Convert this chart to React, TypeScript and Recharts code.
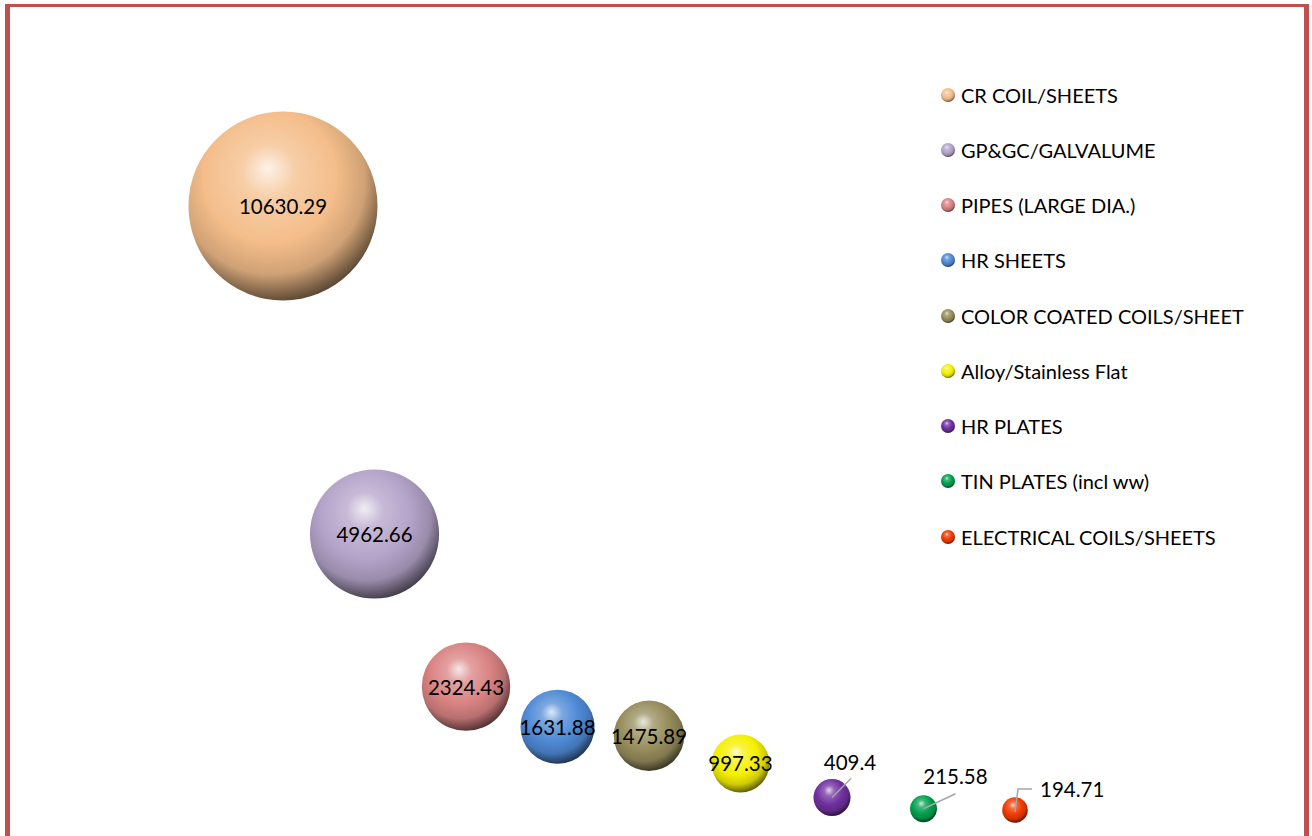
import { ScatterChart, Scatter, XAxis, YAxis, ZAxis } from 'recharts'

const PRODUCTS = [
  'CR COIL/SHEETS',
  'GP&GC/GALVALUME',
  'PIPES (LARGE DIA.)',
  'HR SHEETS',
  'COLOR COATED COILS/SHEET',
  'Alloy/Stainless Flat',
  'HR PLATES',
  'TIN PLATES (incl ww)',
  'ELECTRICAL COILS/SHEETS',
]
const POSITIONS = [1, 2, 3, 4, 5, 6, 7, 8, 9]
const VALUES = [10630.29, 4962.66, 2324.43, 1631.88, 1475.89, 997.33, 409.4, 215.58, 194.71]
const COLORS = ['#f4bd8a', '#b4a3c9', '#d98282', '#4f8ad6', '#978d5c', '#f5f000', '#7030a0', '#00a04e', '#f03a00']

const FONT = 'Lato, "Open Sans", sans-serif'
const MAX_R = 94.5

// small bubbles get their label pushed out with a grey leader line
const CALLOUTS: Record<number, { line: number[][]; tx: number; ty: number; anchor: 'middle' | 'start' }> = {
  6: { line: [[0, 0], [19, -19]], tx: 18, ty: -28, anchor: 'middle' },
  7: { line: [[0, 0], [32, -15]], tx: 32, ty: -25, anchor: 'middle' },
  8: { line: [[0, 2], [3, -21], [17, -21]], tx: 25, ty: -13, anchor: 'start' },
}

const mix = (hex: string, to: string, t: number) => {
  const a = parseInt(hex.slice(1), 16)
  const b = parseInt(to.slice(1), 16)
  const ch = (v: number, s: number) => (v >> s) & 255
  const c = [16, 8, 0].map((s) => Math.round(ch(a, s) + (ch(b, s) - ch(a, s)) * t))
  return `rgb(${c.join(',')})`
}

const SphereDefs = ({ prefix }: { prefix: string }) => (
  <defs>
    {COLORS.map((c, i) => (
      <radialGradient key={i} id={`${prefix}${i}`} cx="0.44" cy="0.38" r="0.64" fx="0.42" fy="0.3">
        <stop offset="0%" stopColor={mix(c, '#ffffff', 0.8)} />
        <stop offset="22%" stopColor={mix(c, '#ffffff', 0.25)} />
        <stop offset="55%" stopColor={c} />
        <stop offset="78%" stopColor={mix(c, '#000000', 0.15)} />
        <stop offset="100%" stopColor={mix(c, '#000000', 0.65)} />
      </radialGradient>
    ))}
  </defs>
)

const makeBubble = (idx: number) => (props: any) => {
  const { cx, cy } = props
  const r = props.width ? props.width / 2 : Math.sqrt((props.size || 0) / Math.PI)
  const callout = CALLOUTS[idx]
  return (
    <g>
      <circle cx={cx} cy={cy} r={r} fill={`url(#sph${idx})`} />
      {callout ? (
        <>
          <polyline
            points={callout.line.map(([dx, dy]) => `${cx + dx},${cy + dy}`).join(' ')}
            fill="none" stroke="#a6a6a6" strokeWidth={1.5}
          />
          <text x={cx + callout.tx} y={cy + callout.ty} textAnchor={callout.anchor}
            fontFamily={FONT} fontSize={20.5} fill="#000">
            {VALUES[idx]}
          </text>
        </>
      ) : (
        <text x={cx} y={cy} textAnchor="middle" dominantBaseline="central"
          fontFamily={FONT} fontSize={20.5} fill="#000">
          {VALUES[idx]}
        </text>
      )}
    </g>
  )
}

const LegendBox = () => (
  <div style={{ position: 'absolute', left: 940, top: 67, width: 360, fontFamily: FONT, fontSize: 20, color: '#000' }}>
    {PRODUCTS.map((p, i) => (
      <div key={p} style={{ height: 55.25, display: 'flex', alignItems: 'center', whiteSpace: 'nowrap' }}>
        <svg width={16} height={16} style={{ marginRight: 5 }}>
          <SphereDefs prefix={`lg${i}_`} />
          <circle cx={8} cy={8} r={7} fill={`url(#lg${i}_${i})`} />
        </svg>
        {p}
      </div>
    ))}
  </div>
)

export default function App() {
  return (
    <div style={{ position: 'absolute', left: 0, top: 0, width: 1312, height: 836, overflow: 'hidden', background: '#fff' }}>
      <div style={{
        position: 'absolute', left: 5, top: 4, width: 1294, height: 900,
        borderTop: '3px solid #c0504d', borderLeft: '5px solid #c0504d', borderRight: '5px solid #c0504d',
      }} />
      <ScatterChart width={1312} height={836} margin={{ top: 11, right: 205.5, bottom: 14.8, left: 191.5 }}
        style={{ position: 'absolute', left: 0, top: 0 }}>
        <SphereDefs prefix="sph" />
        <XAxis type="number" dataKey="x" domain={[0, 10]} hide />
        <YAxis type="number" dataKey="y" domain={[0, 14000]} hide />
        <ZAxis type="number" dataKey="z" domain={[0, Math.max(...VALUES)]} range={[0, Math.PI * MAX_R * MAX_R]} />
        {PRODUCTS.map((p, i) => (
          <Scatter key={p} name={p} data={[{ x: POSITIONS[i], y: VALUES[i], z: VALUES[i] }]}
            fill={COLORS[i]} shape={makeBubble(i)} isAnimationActive={false} />
        ))}
      </ScatterChart>
      <LegendBox />
    </div>
  )
}
